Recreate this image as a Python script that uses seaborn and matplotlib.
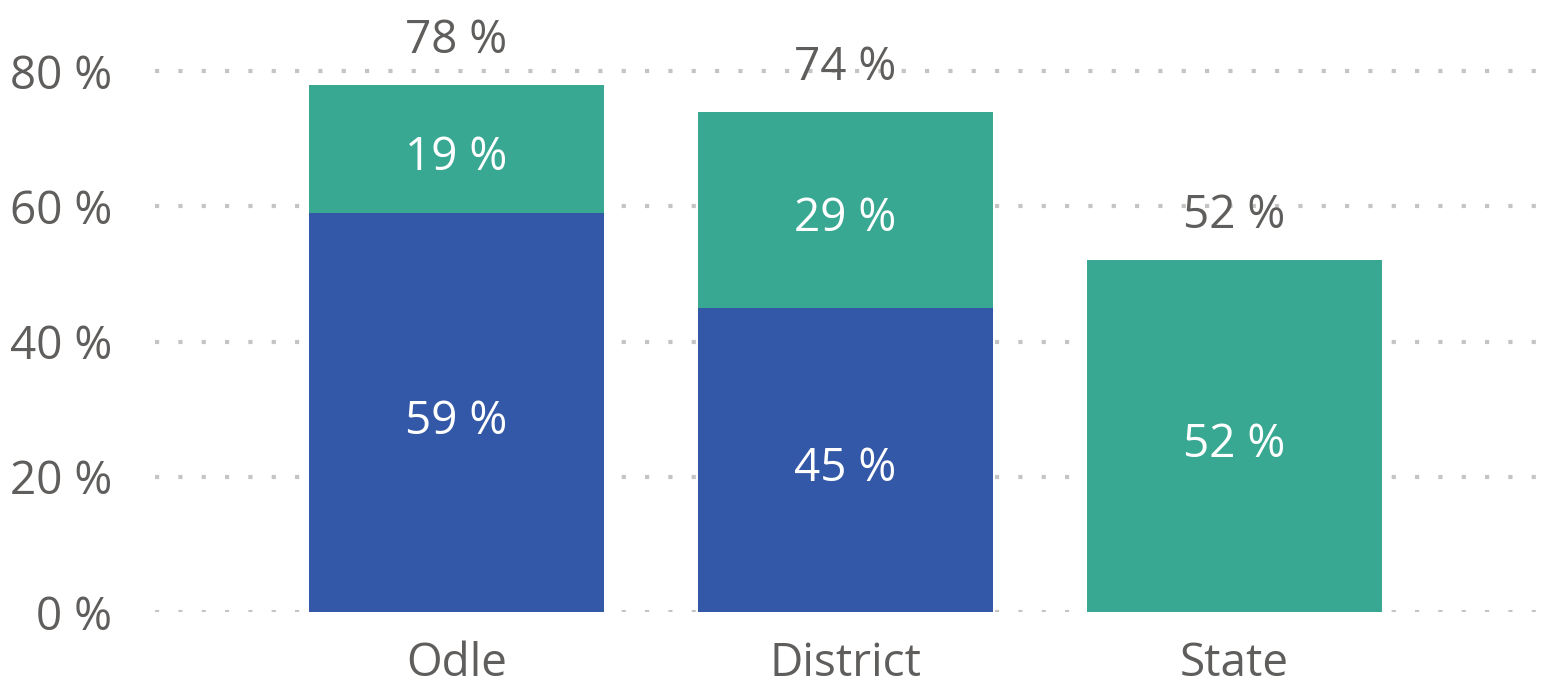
import matplotlib
matplotlib.use("Agg")
import matplotlib.pyplot as plt
import seaborn as sns
import pandas as pd

# Stacked shares per area
areas = ["Odle", "District", "State"]
lower_share = [59, 45, 0]    # blue segment
upper_share = [19, 29, 52]   # teal segment
y_ticks = [0, 20, 40, 60, 80]

BLUE = "#3358A8"
TEAL = "#38A892"
GREY = "#605E5C"
FONT = ["Open Sans", "DejaVu Sans"]
FS = 33

sns.set_theme(style="white")
plt.rcParams["font.family"] = FONT

totals = [a + b for a, b in zip(lower_share, upper_share)]
df = pd.DataFrame({"area": areas, "lower": lower_share, "upper": upper_share, "total": totals})

fig = plt.figure(figsize=(15.48, 6.87), dpi=100)
ax = fig.add_axes([155 / 1548, (687 - 612) / 687, (1548 - 155) / 1548, 612 / 687])

# Full-height bars in teal, then the blue base drawn over them
sns.barplot(data=df, x="area", y="total", color=TEAL, width=0.758, saturation=1,
            linewidth=0, ax=ax, zorder=2)
sns.barplot(data=df, x="area", y="lower", color=BLUE, width=0.758, saturation=1,
            linewidth=0, ax=ax, zorder=3)

ax.set_xlim(-0.775, 2.806)
ax.set_ylim(0, 90.5)

# Dotted horizontal gridlines
for t in y_ticks:
    ax.axhline(t, color="#C4C4C4", lw=3.0, ls=(0, (1.0, 4.6)), zorder=1)

for s in ax.spines.values():
    s.set_visible(False)

ax.set_yticks(y_ticks)
ax.set_yticklabels([f"{t} %" for t in y_ticks])
ax.tick_params(axis="y", length=0, pad=31, labelsize=FS, labelcolor=GREY)
ax.tick_params(axis="x", length=0, pad=21, labelsize=FS, labelcolor=GREY)
ax.set_xlabel("")
ax.set_ylabel("")

def inner_label(x, y, value):
    ax.annotate(f"{value} %", (x, y), xytext=(0, -9), textcoords="offset pixels",
                ha="center", va="center", color="white", fontsize=FS, zorder=5)

for i, (lo, up, tot) in enumerate(zip(lower_share, upper_share, totals)):
    if lo > 0:
        inner_label(i, lo / 2, lo)
    if up > 0:
        inner_label(i, lo + up / 2, up)
    ax.annotate(f"{tot} %", (i, tot), xytext=(0, 44), textcoords="offset pixels",
                ha="center", va="center", color=GREY, fontsize=FS,
                annotation_clip=False, zorder=5)

fig.savefig("out.png", dpi=100)
